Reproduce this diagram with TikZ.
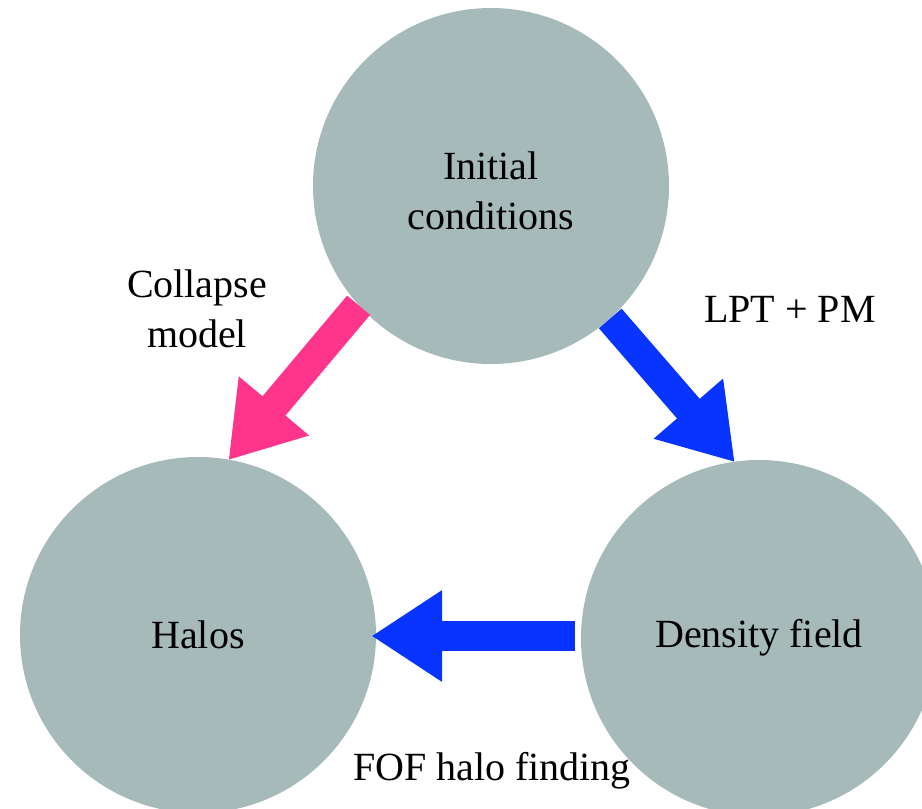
\documentclass[tikz,border=0pt]{standalone}
\usepackage{fontspec}
\setmainfont{Liberation Serif}
\usetikzlibrary{calc}
\definecolor{circgray}{HTML}{A6BAB9}
\definecolor{arrpink}{HTML}{FF358B}
\definecolor{arrblue}{HTML}{0834FF}
\tikzset{
  bigcirc/.style={circle, fill=circgray, draw=none, minimum size=356pt, inner sep=0pt, align=center},
  lbl/.style={align=center, inner sep=0pt},
}
\newcommand{\myblockarrow}[3]{%
  \coordinate (hb) at ($(#3)!70pt!(#2)$);
  \coordinate (hbi) at ($(#3)!68pt!(#2)$);
  \draw[#1, line width=30pt, line cap=butt] (#2) -- (hbi);
  \fill[#1] (#3) -- ($(hb)!46pt!90:(#3)$) -- ($(hb)!46pt!-90:(#3)$) -- cycle;
}
\begin{document}
\begin{tikzpicture}[x=1pt, y=-1pt, font=\fontsize{40}{50}\selectfont]
\useasboundingbox (0,0) rectangle (922,809);
\clip (0,0) rectangle (922,809);
\node[bigcirc] (ic) at (491,186) {\rule{0pt}{38pt}Initial\\conditions};
\node[bigcirc] (halos) at (198,635) {Halos};
\node[bigcirc] (dens) at (759,638) {Density field};
\coordinate (p1s) at (ic.222.3);
\coordinate (p1e) at (halos.80.2);
\coordinate (b1s) at (ic.312.5);
\coordinate (b1e) at (dens.98.6);
\coordinate (b2s) at ($(dens.180)+(-6,-2)$);
\coordinate (b2e) at ($(halos.0)+(-4,1)$);
\myblockarrow{arrpink}{p1s}{p1e}
\myblockarrow{arrblue}{b1s}{b1e}
\myblockarrow{arrblue}{b2s}{b2e}
\node[lbl] (cm) at (197,309) {Collapse\\model};
\node[lbl] (lpt) at (790,309) {LPT + PM};
\node[lbl] (fof) at (492,771) {FOF halo finding};
\end{tikzpicture}
\end{document}
